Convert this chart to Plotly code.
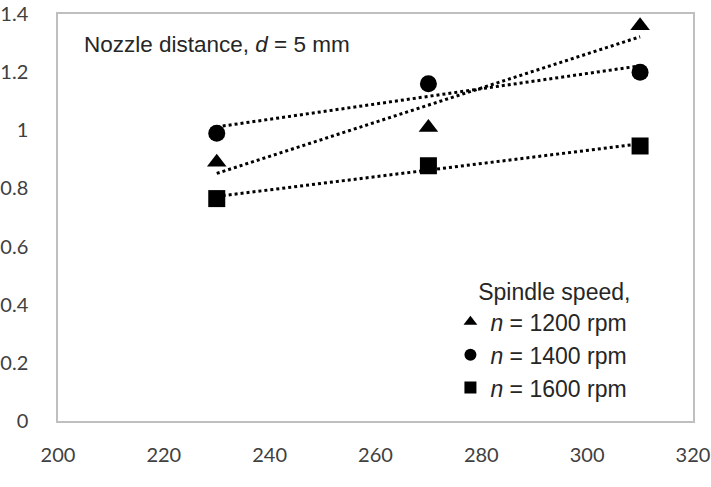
import numpy as np
import plotly.graph_objects as go

# Data
temperature = [230, 270, 310]
series_names = ["<i>n</i> = 1200 rpm", "<i>n</i> = 1400 rpm", "<i>n</i> = 1600 rpm"]
y_1200 = [0.89, 1.01, 1.36]
y_1400 = [0.99, 1.16, 1.20]
y_1600 = [0.765, 0.878, 0.946]
x_ticks = [200, 220, 240, 260, 280, 300, 320]
y_ticks = [0, 0.2, 0.4, 0.6, 0.8, 1.0, 1.2, 1.4]

symbols = ["triangle-up", "circle", "square"]
series = [y_1200, y_1400, y_1600]

fig = go.Figure()
for name, ys, sym in zip(series_names, series, symbols):
    # linear trendline (dotted)
    k, b = np.polyfit(temperature, ys, 1)
    xt = [temperature[0], temperature[-1]]
    fig.add_trace(go.Scatter(
        x=xt, y=[k * v + b for v in xt], mode="lines",
        line=dict(color="black", width=3, dash="dot"),
        showlegend=False, hoverinfo="skip"))
for name, ys, sym in zip(series_names, series, symbols):
    fig.add_trace(go.Scatter(
        x=temperature, y=ys, mode="markers", name=name,
        marker=dict(symbol=sym, size=17, color="black")))

fig.add_annotation(
    x=0.038, y=0.925, xref="paper", yref="paper", xanchor="left", yanchor="middle",
    text="Nozzle distance, <i>d</i> = 5 mm", showarrow=False,
    font=dict(family="Liberation Sans, Arial", size=22.5, color="#262626"))

axis_common = dict(showgrid=False, zeroline=False, showline=True, mirror=True,
                   linecolor="#bfbfbf", linewidth=1.5, ticks="", automargin=False,
                   ticklabeloverflow="allow",
                   tickfont=dict(family="Lato, Carlito, sans-serif", size=20, color="#404040"))

fig.update_layout(
    width=711, height=487,
    margin=dict(l=58, r=18, t=14, b=66),
    paper_bgcolor="white", plot_bgcolor="white",
    xaxis=dict(range=[200, 320], tickvals=x_ticks, ticklabelstandoff=15, **axis_common),
    yaxis=dict(range=[0, 1.4], tickvals=y_ticks, ticklabelstandoff=24, **axis_common),
    legend=dict(x=0.618, y=0.37, xanchor="left", yanchor="top",
                bgcolor="rgba(0,0,0,0)",
                font=dict(family="Liberation Sans, Arial", size=23, color="#262626"),
                title=dict(text="Spindle speed,", side="top right",
                           font=dict(family="Liberation Sans, Arial", size=23, color="#262626")),
                itemsizing="constant"),
)

fig.write_html("out.html")
